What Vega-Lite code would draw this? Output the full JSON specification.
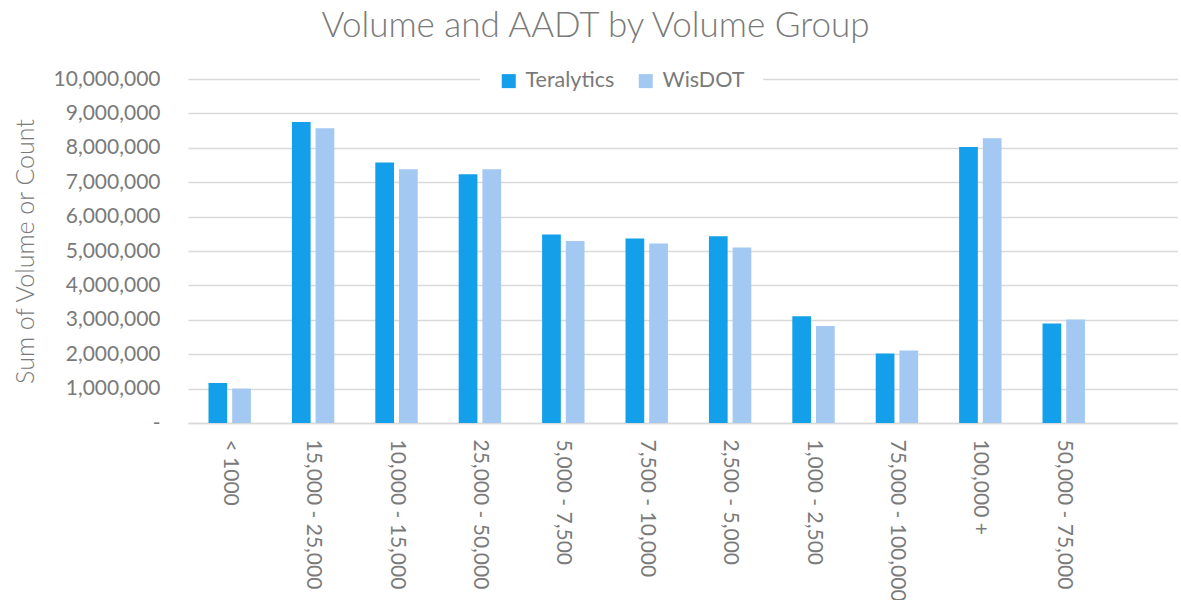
{
  "$schema": "https://vega.github.io/schema/vega-lite/v6.json",
  "width": 990,
  "height": 344,
  "padding": {"left": 13, "top": 9, "right": 0, "bottom": 0},
  "background": "white",
  "title": {
    "text": "Volume and AADT by Volume Group",
    "font": "Lato",
    "fontSize": 35,
    "fontWeight": 300,
    "color": "#7a7a7a",
    "anchor": "middle",
    "frame": "bounds",
    "offset": 8
  },
  "config": {
    "view": {"stroke": null},
    "font": "Lato"
  },
  "data": {
    "values": [
      {"group": "< 1000", "source": "Teralytics", "value": 1163000},
      {"group": "< 1000", "source": "WisDOT", "value": 1000000},
      {"group": "15,000 - 25,000", "source": "Teralytics", "value": 8750000},
      {"group": "15,000 - 25,000", "source": "WisDOT", "value": 8570000},
      {"group": "10,000 - 15,000", "source": "Teralytics", "value": 7570000},
      {"group": "10,000 - 15,000", "source": "WisDOT", "value": 7380000},
      {"group": "25,000 - 50,000", "source": "Teralytics", "value": 7230000},
      {"group": "25,000 - 50,000", "source": "WisDOT", "value": 7380000},
      {"group": "5,000 - 7,500", "source": "Teralytics", "value": 5480000},
      {"group": "5,000 - 7,500", "source": "WisDOT", "value": 5290000},
      {"group": "7,500 - 10,000", "source": "Teralytics", "value": 5360000},
      {"group": "7,500 - 10,000", "source": "WisDOT", "value": 5220000},
      {"group": "2,500 - 5,000", "source": "Teralytics", "value": 5430000},
      {"group": "2,500 - 5,000", "source": "WisDOT", "value": 5100000},
      {"group": "1,000 - 2,500", "source": "Teralytics", "value": 3100000},
      {"group": "1,000 - 2,500", "source": "WisDOT", "value": 2820000},
      {"group": "75,000 - 100,000", "source": "Teralytics", "value": 2020000},
      {"group": "75,000 - 100,000", "source": "WisDOT", "value": 2110000},
      {"group": "100,000 +", "source": "Teralytics", "value": 8020000},
      {"group": "100,000 +", "source": "WisDOT", "value": 8280000},
      {"group": "50,000 - 75,000", "source": "Teralytics", "value": 2890000},
      {"group": "50,000 - 75,000", "source": "WisDOT", "value": 3010000}
    ]
  },
  "mark": {"type": "bar"},
  "encoding": {
    "x": {
      "field": "group",
      "type": "nominal",
      "sort": null,
      "scale": {
        "domain": ["< 1000", "15,000 - 25,000", "10,000 - 15,000", "25,000 - 50,000", "5,000 - 7,500", "7,500 - 10,000", "2,500 - 5,000", "1,000 - 2,500", "75,000 - 100,000", "100,000 +", "50,000 - 75,000"],
        "paddingInner": 0,
        "paddingOuter": 0.435,
        "align": 0
      },
      "axis": {
        "title": null,
        "labelAngle": 90,
        "labelFontSize": 21,
        "labelColor": "#7a7a7a",
        "labelFont": "Lato",
        "labelPadding": 16,
        "labelLimit": 300,
        "ticks": false,
        "domain": true,
        "domainColor": "#d9d9d9",
        "domainWidth": 1.5,
        "grid": false
      }
    },
    "xOffset": {
      "field": "source",
      "type": "nominal",
      "scale": {"domain": ["Teralytics", "WisDOT"], "paddingInner": 0.21, "paddingOuter": 0.865}
    },
    "y": {
      "field": "value",
      "type": "quantitative",
      "scale": {"domain": [0, 10000000], "nice": false},
      "axis": {
        "title": "Sum of Volume or Count",
        "titleFont": "Lato",
        "titleFontSize": 25,
        "titleFontWeight": 300,
        "titleColor": "#7a7a7a",
        "titlePadding": 15,
        "values": [0, 1000000, 2000000, 3000000, 4000000, 5000000, 6000000, 7000000, 8000000, 9000000, 10000000],
        "labelExpr": "datum.value == 0 ? '-\u00a0\u00a0\u00a0' : format(datum.value, ',')",
        "labelOverlap": false,
        "labelFontSize": 21,
        "labelFont": "Lato",
        "labelColor": "#7a7a7a",
        "labelPadding": 28,
        "ticks": false,
        "domain": false,
        "grid": true,
        "gridColor": "#d9d9d9",
        "gridWidth": 1.5
      }
    },
    "color": {
      "field": "source",
      "type": "nominal",
      "scale": {"domain": ["Teralytics", "WisDOT"], "range": ["#139FEA", "#A3C8F2"]},
      "legend": {
        "title": null,
        "orient": "none",
        "direction": "horizontal",
        "legendX": 292,
        "legendY": -27,
        "fillColor": "white",
        "padding": 18,
        "symbolType": "square",
        "symbolSize": 196,
        "symbolStrokeWidth": 0,
        "labelFontSize": 21.5,
        "labelFont": "Lato",
        "labelColor": "#7a7a7a",
        "labelOffset": 6,
        "columnPadding": 20
      }
    }
  }
}
